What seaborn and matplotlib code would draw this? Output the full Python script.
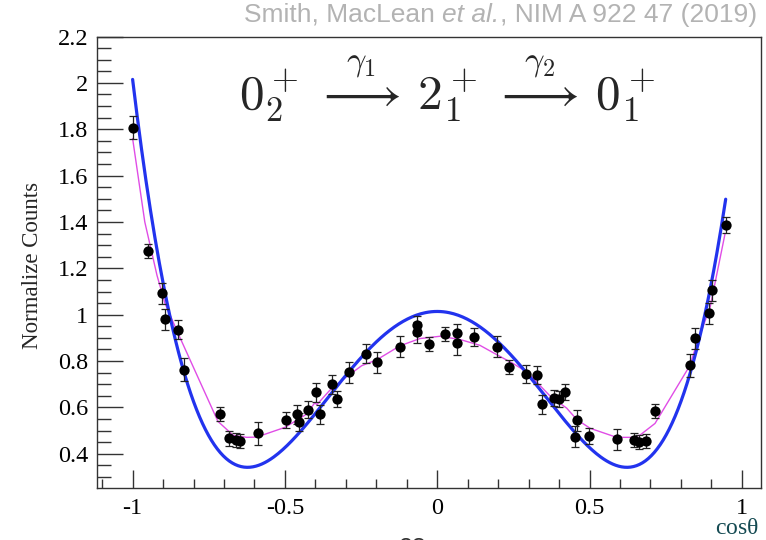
import numpy as np
import pandas as pd
import matplotlib
matplotlib.use("Agg")
import matplotlib.pyplot as plt
from matplotlib.ticker import MultipleLocator, FuncFormatter
import seaborn as sns

# Measured angular correlation (normalized counts vs cos(theta))
cos_theta = [-1.000, -0.949, -0.902, -0.894, -0.851, -0.832, -0.714, -0.684, -0.662, -0.646,
             -0.590, -0.498, -0.460, -0.453, -0.424, -0.398, -0.385, -0.344, -0.330, -0.291,
             -0.235, -0.197, -0.123, -0.067, -0.067, -0.028, 0.027, 0.065, 0.065, 0.120,
             0.196, 0.234, 0.291, 0.327, 0.343, 0.384, 0.400, 0.421, 0.458, 0.452,
             0.497, 0.589, 0.646, 0.662, 0.686, 0.714, 0.831, 0.846, 0.893, 0.901, 0.947]
counts = [1.807, 1.274, 1.093, 0.980, 0.936, 0.762, 0.572, 0.467, 0.458, 0.456,
          0.488, 0.545, 0.570, 0.538, 0.591, 0.665, 0.570, 0.700, 0.636, 0.752,
          0.832, 0.794, 0.861, 0.954, 0.925, 0.872, 0.918, 0.921, 0.878, 0.904,
          0.861, 0.776, 0.745, 0.739, 0.613, 0.640, 0.636, 0.666, 0.545, 0.474,
          0.478, 0.462, 0.459, 0.452, 0.456, 0.584, 0.782, 0.899, 1.007, 1.105, 1.387]
count_err = [0.050, 0.030, 0.045, 0.045, 0.040, 0.050, 0.030, 0.033, 0.030, 0.030,
             0.048, 0.035, 0.040, 0.040, 0.035, 0.040, 0.040, 0.040, 0.035, 0.045,
             0.040, 0.045, 0.045, 0.040, 0.045, 0.030, 0.030, 0.040, 0.050, 0.040,
             0.045, 0.030, 0.040, 0.040, 0.040, 0.035, 0.035, 0.035, 0.045, 0.045,
             0.035, 0.045, 0.030, 0.030, 0.030, 0.030, 0.050, 0.045, 0.045, 0.045, 0.035]

# Simulated response (magenta)
sim_x = [-1.000, -0.960, -0.920, -0.894, -0.851, -0.720, -0.670, -0.626, -0.593, -0.500,
         -0.451, -0.429, -0.402, -0.395, -0.352, -0.300, -0.248, -0.199, -0.122, -0.057,
         0.009, 0.075, 0.140, 0.206, 0.250, 0.294, 0.337, 0.381, 0.403, 0.425,
         0.458, 0.502, 0.589, 0.644, 0.666, 0.715, 0.830, 0.852, 0.896, 0.945]
sim_y = [1.760, 1.400, 1.170, 1.050, 0.920, 0.540, 0.480, 0.471, 0.472, 0.514,
         0.553, 0.571, 0.620, 0.612, 0.675, 0.730, 0.780, 0.805, 0.866, 0.897,
         0.907, 0.893, 0.868, 0.820, 0.789, 0.753, 0.695, 0.635, 0.618, 0.597,
         0.548, 0.510, 0.471, 0.471, 0.481, 0.531, 0.782, 0.875, 1.033, 1.350]

# Theoretical 0 -> 2 -> 0 correlation W = a0 * (1 + a2 cos^2 + a4 cos^4)
a0, a2, a4 = 1.014, -3.418, 4.405
theory_range = (-1.0, 0.947)

sns.set_style("ticks")
plt.rcParams["font.family"] = ["Liberation Serif", "DejaVu Serif"]
plt.rcParams["mathtext.fontset"] = "cm"
plt.rcParams["axes.unicode_minus"] = False

fig = plt.figure(figsize=(7.66, 5.40), dpi=100)
ax = fig.add_axes([0.1262, 0.0963, 0.9935 - 0.1262, 0.9324 - 0.0963])

ct = np.linspace(theory_range[0], theory_range[1], 400)
theory = pd.DataFrame({"c": ct, "w": a0 * (1 + a2 * ct**2 + a4 * ct**4)})
sim = pd.DataFrame({"c": sim_x, "w": sim_y})
meas = pd.DataFrame({"c": cos_theta, "w": counts, "e": count_err})

sns.lineplot(data=sim, x="c", y="w", sort=False, estimator=None, ax=ax,
             color="#e04de6", lw=1.0, zorder=2)
sns.lineplot(data=theory, x="c", y="w", sort=False, estimator=None, ax=ax,
             color="#2233ee", lw=2.3, zorder=3)
ax.errorbar(meas["c"], meas["w"], yerr=meas["e"], fmt="none", ecolor="#222222",
            elinewidth=0.9, capsize=2.8, capthick=0.9, zorder=4)
sns.scatterplot(data=meas, x="c", y="w", ax=ax, color="black", s=55,
                edgecolor="black", linewidth=0, zorder=5)

ax.set_xlim(-1.118, 1.063)
ax.set_ylim(0.2525, 2.2)
ax.set_xlabel("")
ax.set_ylabel("")

ax.xaxis.set_major_locator(MultipleLocator(0.5))
ax.xaxis.set_minor_locator(MultipleLocator(0.1))
ax.yaxis.set_major_locator(MultipleLocator(0.2))
ax.yaxis.set_minor_locator(MultipleLocator(0.05))
fmt = FuncFormatter(lambda v, p: "%g" % round(v, 3))
ax.xaxis.set_major_formatter(fmt)
ax.yaxis.set_major_formatter(fmt)

ax.tick_params(axis="both", which="both", direction="in", top=False, right=False,
               colors="#333333", labelcolor="black", labelsize=17.5)
ax.tick_params(axis="x", which="major", length=13, width=1.0, pad=7)
ax.tick_params(axis="x", which="minor", length=6.5, width=1.0)
ax.tick_params(axis="y", which="major", length=19, width=1.0, pad=6)
ax.tick_params(axis="y", which="minor", length=10, width=1.0)
for s in ax.spines.values():
    s.set_visible(True)
    s.set_linewidth(1.0)
    s.set_color("#333333")

fig.text(0.042, 0.509, "Normalize Counts", rotation=90, ha="center", va="center",
         fontsize=16.5)
fig.text(0.990, 0.021, r"cos$\mathregular{\theta}$", ha="right", va="center",
         fontsize=17, color="#144a52")

ax.text(0.527, 0.885,
        r"$0_2^+\,\overset{\gamma_1}{\longrightarrow}\,2_1^+\,\overset{\gamma_2}{\longrightarrow}\,0_1^+$",
        transform=ax.transAxes, ha="center", va="center", fontsize=35.5)

# Citation line, laid out piece by piece so the italic part sits flush
renderer = fig.canvas.get_renderer()
cite_kw = dict(va="top", fontsize=19, color="#b3b3b3",
               family=["Liberation Sans", "DejaVu Sans"])
cite_parts = [("Smith, MacLean ", "normal"), ("et al.", "italic"),
              (", NIM A 922 47 (2019)", "normal")]
x_right = 0.988 * fig.bbox.width
for text, style in reversed(cite_parts):
    t = fig.text(x_right / fig.bbox.width, 0.995, text, ha="right",
                 style=style, **cite_kw)
    x_right -= t.get_window_extent(renderer).width

fig.text(0.539, 0.006, "28", ha="center", va="top", fontsize=18, color="#333333",
         family=["Liberation Sans", "DejaVu Sans"])

fig.savefig("out.png", dpi=100)
